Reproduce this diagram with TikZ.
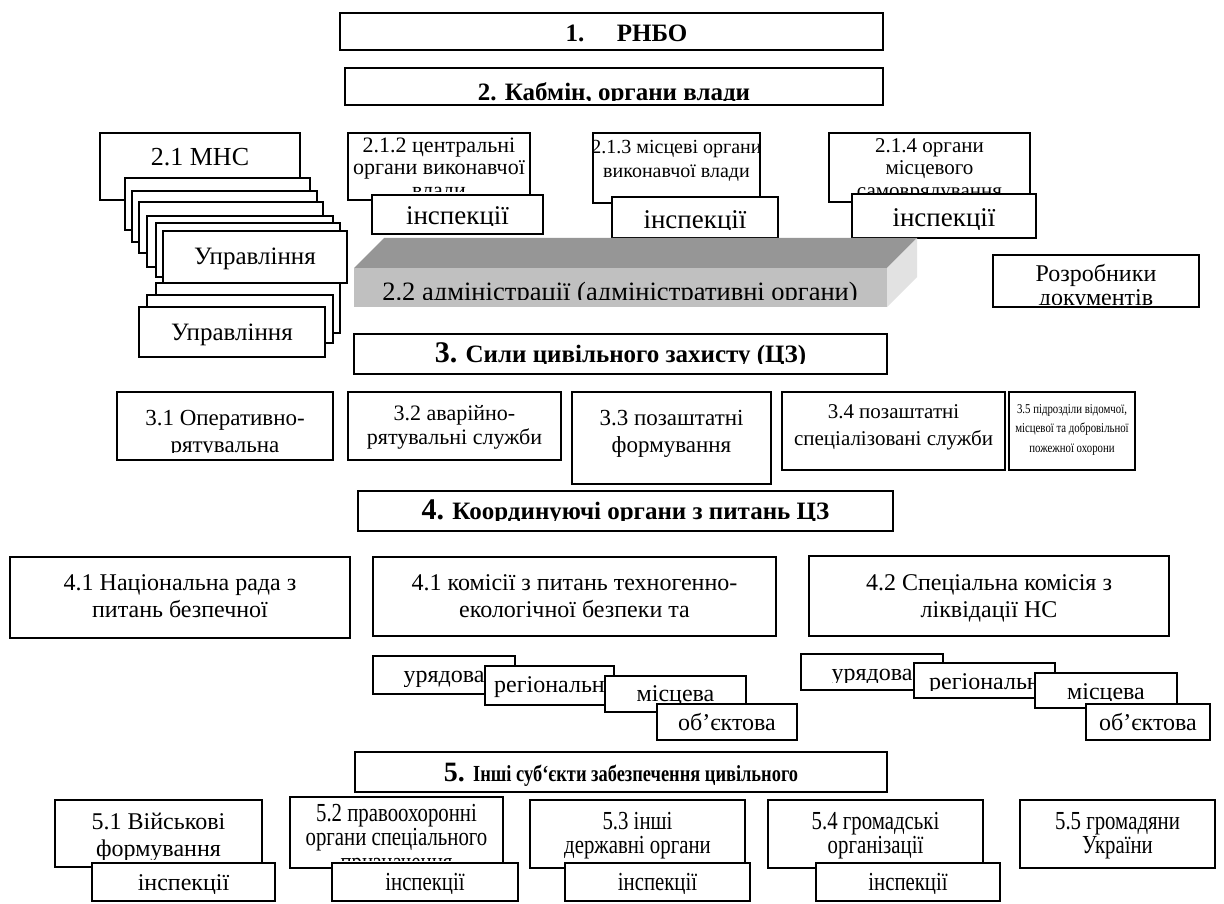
\documentclass[tikz,border=0pt]{standalone}
\usepackage{fontspec}
\setmainfont{Liberation Serif}
\newfontfamily\narrowfont[FakeStretch=0.8]{Liberation Serif}
\usetikzlibrary{calc}
\definecolor{slab-front}{RGB}{192,192,192}
\definecolor{slab-top}{RGB}{150,150,150}
\definecolor{slab-side}{RGB}{226,226,226}
\tikzset{
	box font/.store in=\boxfont, box font=\fontsize{22}{25}\selectfont,
	clip inset/.store in=\clipinset, clip inset=8,
	boxline/.style={draw=black, line width=1.8pt},
	boxtext/.style={anchor=north, inner sep=0pt, align=center, font=\boxfont},
	head/.style={box font=\fontsize{25}{27}\selectfont\bfseries, clip inset=4},
	big/.style={box font=\fontsize{26}{28}\selectfont},
	mid/.style={box font=\fontsize{24}{27}\selectfont},
	small/.style={box font=\fontsize{21}{22.5}\selectfont},
	narrow/.style={box font=\fontsize{26}{24.5}\narrowfont\selectfont},
	tiny/.style={box font=\fontsize{13.5}{19.5}\narrowfont\selectfont},
}
% box: style, name, x1, y1, x2, y2, first baseline, text
\newcommand{\orgBox}[8]{
	\begin{scope}[#1]
		\fill[white] (#3,#4) rectangle (#5,#6);
		\clip (#3,#4) rectangle (#5,{#6-\clipinset});
		\node[boxtext] (#2) at ({(#3+#5)/2},{#7-20}) {\rule{0pt}{20pt}#8};
	\end{scope}
	\draw[boxline] (#3,#4) rectangle (#5,#6);
}

\begin{document}
\begin{tikzpicture}[x=1pt,y=-1pt]
	\useasboundingbox (0,0) rectangle (1224,904);
	\fill[white] (0,0) rectangle (1224,904);
	% 1, 2
	\orgBox{head, clip inset=1}{rnbo}{340}{13}{883}{50}{41}{\hspace{1.2em}1.\hspace{1.3em}РНБО}
	\orgBox{head}{kabmin}{345}{68}{883}{105}{100}{2. Кабмін, органи влади}
	% 2.1
	\orgBox{big}{mns}{100}{133}{300}{200}{165}{2.1 МНС}
	\foreach \xa/\ya/\xb/\yb in {125/178/310/230, 132/191/317/242, 139/202/323/253, 147/216/333/267, 156/223/340/277}
		\draw[boxline, fill=white] (\xa,\ya) rectangle (\xb,\yb);
	\orgBox{mid, box font=\fontsize{25}{27}\selectfont}{uprA}{163}{231}{347}{283}{264}{Управління}
	\foreach \xa/\ya/\xb/\yb in {156/283/340/333, 147/295/333/343}
		\draw[boxline, fill=white] (\xa,\ya) rectangle (\xb,\yb);
	\orgBox{mid, box font=\fontsize{25}{27}\selectfont}{uprB}{139}{307}{325}{357}{340}{Управління}
	\orgBox{small, box font=\fontsize{22}{22.5}\selectfont}{cova}{348}{133}{530}{200}{152}{2.1.2 центральні\\органи виконавчої\\влади}
	\orgBox{big, box font=\fontsize{27}{28}\selectfont}{inspA}{372}{195}{543}{234}{224}{інспекції}
	\orgBox{small, box font=\fontsize{20}{24}\selectfont}{mova}{593}{133}{760}{203}{153}{2.1.3 місцеві органи\\виконавчої влади}
	\orgBox{big, box font=\fontsize{27}{28}\selectfont}{inspB}{612}{197}{778}{238}{228}{інспекції}
	\orgBox{small}{oms}{829}{133}{1030}{202}{152}{2.1.4 органи\\місцевого\\самоврядування}
	\orgBox{big, box font=\fontsize{27}{28}\selectfont}{inspC}{852}{194}{1036}{238}{226}{інспекції}
	% 2.2 slab
	\fill[slab-top] (354,268) -- (384,238) -- (917,238) -- (887,268) -- cycle;
	\fill[slab-side] (887,268) -- (917,238) -- (917,277) -- (887,307) -- cycle;
	\fill[slab-front] (354,268) rectangle (887,307);
	\begin{scope}
		\clip (354,268) rectangle (887,299);
		\node[boxtext, font=\fontsize{26.5}{28}\selectfont] (admin) at (620,280) {\rule{0pt}{20pt}2.2 адміністрації (адміністративні органи)};
	\end{scope}
	\orgBox{mid, box font=\fontsize{24}{24}\selectfont, clip inset=3}{rozr}{993}{255}{1199}{307}{281}{Розробники\\документів}
	% 3
	\orgBox{head, clip inset=11}{sily}{354}{334}{887}{374}{362}{{\fontsize{30}{30}\selectfont 3.} Сили цивільного захисту (ЦЗ)}
	\orgBox{mid, box font=\fontsize{23}{27}\selectfont}{ort}{117}{392}{333}{460}{425}{3.1 Оперативно-\\рятувальна}
	\orgBox{small, box font=\fontsize{22}{24}\selectfont}{ars}{348}{392}{561}{460}{420}{3.2 аварійно-\\рятувальні служби}
	\orgBox{mid, box font=\fontsize{23}{27}\selectfont}{pf}{572}{392}{771}{484}{425}{3.3 позаштатні\\формування}
	\orgBox{mid, box font=\fontsize{21}{27}\selectfont}{pss}{782}{392}{1005}{470}{418}{3.4 позаштатні\\спеціалізовані служби}
	\orgBox{tiny}{ppo}{1009}{392}{1135}{470}{413}{3.5 підрозділи відомчої,\\місцевої та добровільної\\пожежної охорони}
	% 4
	\orgBox{head, clip inset=11}{koord}{358}{491}{893}{531}{519}{{\fontsize{30}{30}\selectfont 4.} Координуючі органи з питань ЦЗ}
	\orgBox{mid}{nrada}{10}{557}{350}{638}{590}{4.1 Національна рада з\\питань безпечної}
	\orgBox{mid}{komis}{373}{557}{776}{636}{590}{4.1 комісії з питань техногенно-\\екологічної безпеки та}
	\orgBox{mid}{spec}{809}{556}{1169}{636}{590}{4.2 Спеціальна комісія з\\ліквідації НС}
	\orgBox{mid}{urA}{373}{656}{515}{694}{682}{урядова}
	\orgBox{mid}{regA}{485}{666}{614}{705}{692}{регіональн}
	\orgBox{mid}{miscA}{605}{676}{746}{712}{701}{місцева}
	\orgBox{mid}{objA}{657}{704}{797}{740}{730}{об’єктова}
	\orgBox{mid}{urB}{801}{654}{943}{690}{680}{урядова}
	\orgBox{mid}{regB}{914}{663}{1055}{698}{689}{регіональн}
	\orgBox{mid}{miscB}{1035}{673}{1177}{708}{699}{місцева}
	\orgBox{mid}{objB}{1086}{704}{1210}{740}{730}{об’єктова}
	% 5
	\orgBox{head}{inshi}{355}{752}{887}{792}{781}{{\fontsize{28}{28}\selectfont 5.} {\fontsize{23}{25}\narrowfont\bfseries\selectfont Інші суб‘єкти забезпечення цивільного}}
	\orgBox{mid}{vijsk}{55}{800}{262}{867}{829}{5.1 Військові\\формування}
	\orgBox{mid}{inspD}{92}{863}{275}{901}{890}{інспекції}
	\orgBox{narrow}{pravo}{290}{797}{503}{868}{821}{5.2 правоохоронні\\органи спеціального\\призначення}
	\orgBox{narrow}{inspE}{332}{863}{518}{901}{890}{інспекції}
	\orgBox{narrow}{derzh}{530}{800}{745}{868}{829}{5.3 інші\\державні органи}
	\orgBox{narrow}{inspF}{565}{863}{750}{901}{890}{інспекції}
	\orgBox{narrow}{hrom}{768}{800}{983}{868}{829}{5.4 громадські\\організації}
	\orgBox{narrow}{inspG}{816}{863}{1000}{901}{890}{інспекції}
	\orgBox{narrow}{hrd}{1020}{800}{1215}{868}{829}{5.5 громадяни\\України}
\end{tikzpicture}
\end{document}
